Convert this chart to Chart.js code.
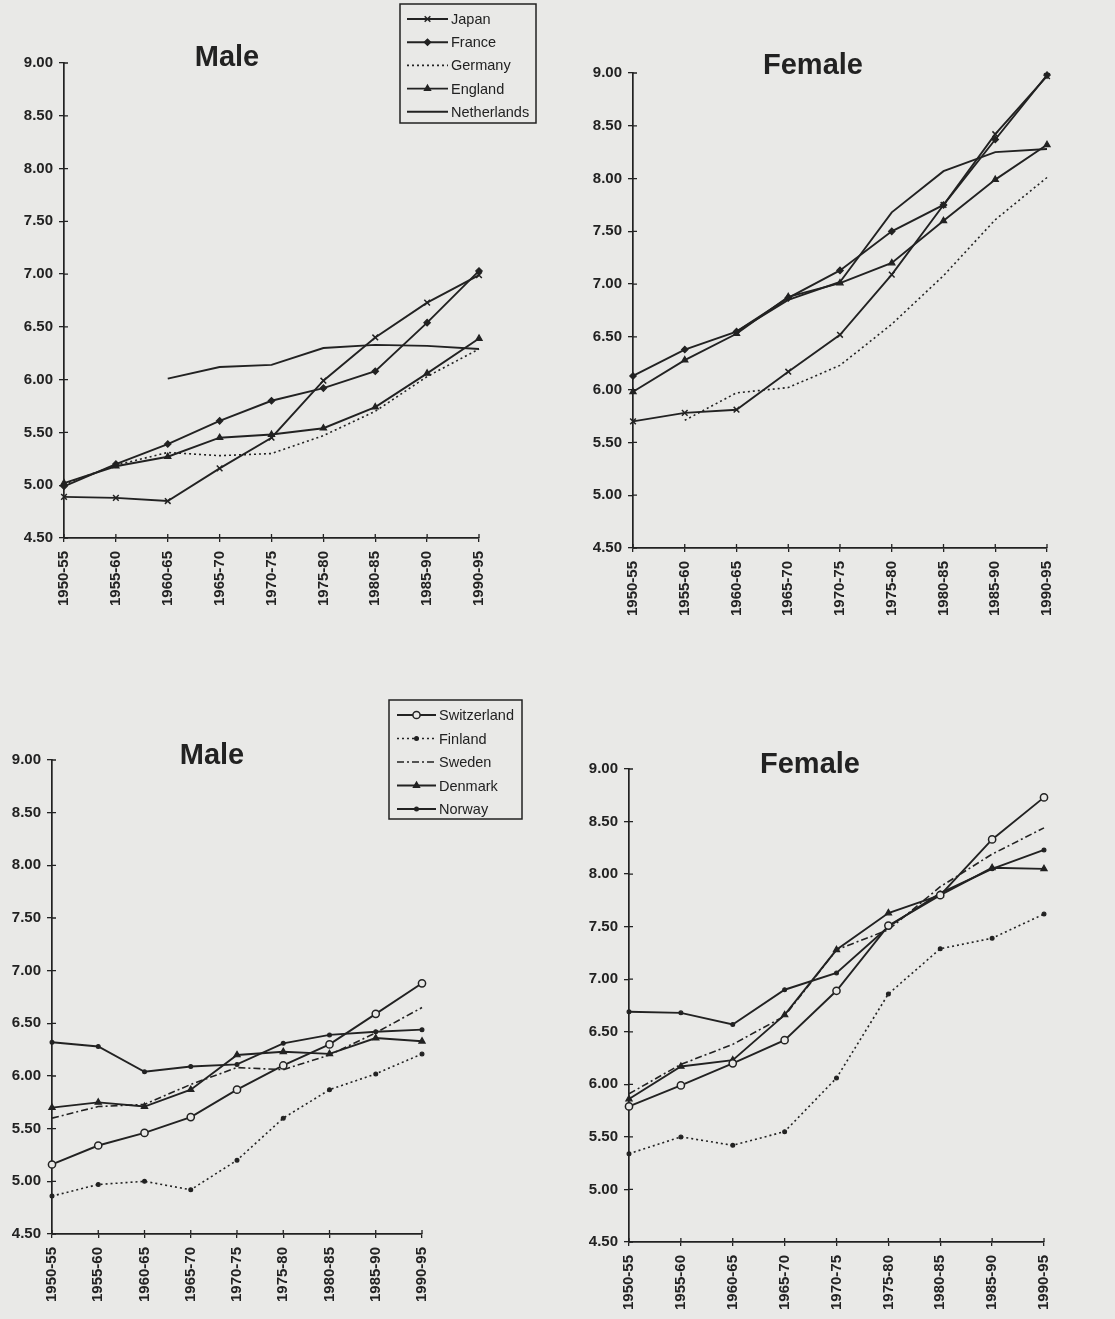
<!DOCTYPE html>
<html>
<head>
<meta charset="utf-8">
<title>Life expectancy at age 80, 1950-55 to 1990-95</title>
<script src="https://cdn.jsdelivr.net/npm/chart.js@4.4.1/dist/chart.umd.min.js"></script>
<style>
  html, body { margin: 0; padding: 0; background: #e9e9e7; }
  #page { position: relative; width: 1115px; height: 1319px; overflow: hidden; }
  #page canvas { position: absolute; }
</style>
</head>
<body>
<div id="page">
  <canvas id="maleA" width="560" height="645" style="left:0;top:0"></canvas>
  <canvas id="femaleA" width="555" height="645" style="left:560px;top:0"></canvas>
  <canvas id="maleB" width="560" height="639" style="left:0;top:680px"></canvas>
  <canvas id="femaleB" width="555" height="639" style="left:560px;top:680px"></canvas>
</div>
<script>
// Periods on the x axis
const periods = ['1950-55', '1955-60', '1960-65', '1965-70', '1970-75', '1975-80', '1980-85', '1985-90', '1990-95'];

// y axis range
const yMin = 4.5;
const yMax = 9.0;
const yStep = 0.5;

// Group A, male
const japanMale       = [4.89, 4.88, 4.85, 5.16, 5.45, 5.99, 6.40, 6.73, 6.99];
const franceMale      = [4.99, 5.20, 5.39, 5.61, 5.80, 5.92, 6.08, 6.54, 7.03];
const germanyMale     = [5.01, 5.19, 5.31, 5.28, 5.30, 5.47, 5.70, 6.03, 6.29];
const englandMale     = [5.02, 5.18, 5.27, 5.45, 5.48, 5.54, 5.74, 6.06, 6.39];
const netherlandsMale = [null, null, 6.01, 6.12, 6.14, 6.30, 6.33, 6.32, 6.29];

// Group A, female
const japanFemale       = [5.70, 5.78, 5.81, 6.17, 6.52, 7.09, 7.75, 8.42, 8.97];
const franceFemale      = [6.13, 6.38, 6.55, 6.87, 7.13, 7.50, 7.75, 8.37, 8.98];
const germanyFemale     = [null, 5.71, 5.97, 6.02, 6.23, 6.62, 7.08, 7.61, 8.01];
const englandFemale     = [5.98, 6.28, 6.53, 6.88, 7.01, 7.20, 7.60, 7.99, 8.32];
const netherlandsFemale = [null, null, 6.55, 6.85, 7.02, 7.68, 8.07, 8.25, 8.28];

// Group B, male
const switzerlandMale = [5.16, 5.34, 5.46, 5.61, 5.87, 6.10, 6.30, 6.59, 6.88];
const finlandMale     = [4.86, 4.97, 5.00, 4.92, 5.20, 5.60, 5.87, 6.02, 6.21];
const swedenMale      = [5.60, 5.71, 5.73, 5.92, 6.08, 6.06, 6.20, 6.41, 6.65];
const denmarkMale     = [5.70, 5.75, 5.71, 5.87, 6.20, 6.23, 6.21, 6.36, 6.33];
const norwayMale      = [6.32, 6.28, 6.04, 6.09, 6.11, 6.31, 6.39, 6.42, 6.44];

// Group B, female
const switzerlandFemale = [5.79, 5.99, 6.20, 6.42, 6.89, 7.51, 7.80, 8.33, 8.73];
const finlandFemale     = [5.34, 5.50, 5.42, 5.55, 6.06, 6.86, 7.29, 7.39, 7.62];
const swedenFemale      = [5.91, 6.19, 6.38, 6.65, 7.28, 7.47, 7.88, 8.19, 8.44];
const denmarkFemale     = [5.86, 6.17, 6.23, 6.66, 7.28, 7.63, 7.80, 8.06, 8.05];
const norwayFemale      = [6.69, 6.68, 6.57, 6.90, 7.06, 7.50, 7.82, 8.05, 8.23];

const INK = '#222222';
const PAPER = '#e9e9e7';
const FONT = '"Liberation Sans", Arial, Helvetica, sans-serif';

const styles = {
    Japan:       { pointStyle: 'crossRot', pointRadius: 4, pointBorderWidth: 1.5 },
    France:      { pointStyle: 'rectRot', pointRadius: 3.2 },
    Germany:     { borderDash: [2, 3], borderWidth: 1.6 },
    England:     { pointStyle: 'triangle', pointRadius: 3.6 },
    Netherlands: {},
    Switzerland: { pointStyle: 'circle', pointRadius: 3.6, pointBackgroundColor: PAPER, pointBorderWidth: 1.5 },
    Finland:     { borderDash: [2, 3], borderWidth: 1.6, pointStyle: 'circle', pointRadius: 1.9 },
    Sweden:      { borderDash: [7, 3, 2, 3], borderWidth: 1.6 },
    Denmark:     { pointStyle: 'triangle', pointRadius: 3.6 },
    Norway:      { pointStyle: 'circle', pointRadius: 1.9 }
};

function series(label, data) {
    return Object.assign({
        label: label,
        data: data,
        borderColor: INK,
        backgroundColor: INK,
        borderWidth: 1.9,
        pointBorderColor: INK,
        pointBackgroundColor: INK,
        pointBorderWidth: 1.2,
        pointRadius: 0,
        tension: 0,
        fill: false,
        clip: false
    }, styles[label]);
}

// Titles, inner half of tick marks and the boxed legend
const panelDecor = {
    id: 'panelDecor',
    afterDraw(chart, args, opts) {
        const ctx = chart.ctx;
        const xs = chart.scales.x;
        const ys = chart.scales.y;
        ctx.save();
        ctx.strokeStyle = INK;
        ctx.lineWidth = 1.3;
        ctx.beginPath();
        xs.ticks.forEach((t, i) => {
            const px = xs.getPixelForTick(i);
            ctx.moveTo(px, xs.top);
            ctx.lineTo(px, xs.top - 4);
        });
        ys.ticks.forEach((t, i) => {
            const py = ys.getPixelForTick(i);
            ctx.moveTo(ys.right, py);
            ctx.lineTo(ys.right + 4, py);
        });
        ctx.stroke();

        ctx.fillStyle = INK;
        ctx.font = 'bold 29px ' + FONT;
        ctx.textAlign = 'center';
        ctx.textBaseline = 'middle';
        ctx.fillText(opts.title, opts.titleX, opts.titleY);

        const lg = opts.legend;
        if (lg) {
            ctx.lineWidth = 1.5;
            ctx.strokeRect(lg.x, lg.y, lg.w, lg.h);
            ctx.font = '14.5px ' + FONT;
            ctx.textAlign = 'left';
            chart.data.datasets.forEach((ds, i) => {
                const ry = lg.firstRow + i * lg.rowH;
                ctx.strokeStyle = INK;
                ctx.lineWidth = ds.borderWidth;
                ctx.setLineDash(ds.borderDash || []);
                ctx.beginPath();
                ctx.moveTo(lg.sx1, ry);
                ctx.lineTo(lg.sx2, ry);
                ctx.stroke();
                ctx.setLineDash([]);
                if (ds.pointRadius > 0 && Chart.helpers && Chart.helpers.drawPoint) {
                    ctx.fillStyle = ds.pointBackgroundColor;
                    ctx.strokeStyle = ds.pointBorderColor;
                    ctx.lineWidth = ds.pointBorderWidth;
                    Chart.helpers.drawPoint(ctx, {
                        pointStyle: ds.pointStyle,
                        radius: ds.pointRadius,
                        borderWidth: ds.pointBorderWidth,
                        rotation: 0
                    }, (lg.sx1 + lg.sx2) / 2, ry);
                }
                ctx.fillStyle = INK;
                ctx.fillText(ds.label, lg.sx2 + 3, ry + 1);
            });
        }
        ctx.restore();
    }
};

function makePanel(id, datasets, geo, decor) {
    const canvas = document.getElementById(id);
    const w = canvas.width;
    const h = canvas.height;
    const tickFont = { family: FONT, size: 15, weight: 'bold' };

    return new Chart(canvas.getContext('2d'), {
        type: 'line',
        data: { labels: periods, datasets: datasets },
        options: {
            responsive: false,
            animation: false,
            devicePixelRatio: 1,
            layout: { padding: { left: 0, top: geo.top, right: w - geo.right, bottom: 0 } },
            plugins: {
                legend: { display: false },
                tooltip: { enabled: false },
                panelDecor: decor
            },
            scales: {
                x: {
                    offset: false,
                    grid: { drawOnChartArea: false, drawTicks: true, tickLength: 4, color: INK, lineWidth: 1.3 },
                    border: { display: true, color: INK, width: 1.7 },
                    ticks: { color: INK, font: tickFont, minRotation: 90, maxRotation: 90, padding: 9, autoSkip: false },
                    afterFit(s) { s.height = h - geo.bottom; }
                },
                y: {
                    min: yMin,
                    max: yMax,
                    grid: { drawOnChartArea: false, drawTicks: true, tickLength: 5, color: INK, lineWidth: 1.3 },
                    border: { display: true, color: INK, width: 1.7 },
                    ticks: { stepSize: yStep, color: INK, font: tickFont, padding: 6, callback: v => v.toFixed(2) },
                    afterFit(s) { s.width = geo.left; }
                }
            }
        },
        plugins: [panelDecor]
    });
}

makePanel('maleA', [
    series('Japan', japanMale),
    series('France', franceMale),
    series('Germany', germanyMale),
    series('England', englandMale),
    series('Netherlands', netherlandsMale)
], { left: 64, right: 479, top: 63, bottom: 538 }, {
    title: 'Male', titleX: 227, titleY: 58,
    legend: { x: 400, y: 4, w: 136, h: 119, firstRow: 19, rowH: 23.2, sx1: 407, sx2: 448 }
});

makePanel('femaleA', [
    series('Japan', japanFemale),
    series('France', franceFemale),
    series('Germany', germanyFemale),
    series('England', englandFemale),
    series('Netherlands', netherlandsFemale)
], { left: 73, right: 487, top: 73, bottom: 548 }, {
    title: 'Female', titleX: 253, titleY: 66
});

makePanel('maleB', [
    series('Switzerland', switzerlandMale),
    series('Finland', finlandMale),
    series('Sweden', swedenMale),
    series('Denmark', denmarkMale),
    series('Norway', norwayMale)
], { left: 52, right: 422, top: 80, bottom: 554 }, {
    title: 'Male', titleX: 212, titleY: 76,
    legend: { x: 389, y: 20, w: 133, h: 119, firstRow: 35, rowH: 23.5, sx1: 397, sx2: 436 }
});

makePanel('femaleB', [
    series('Switzerland', switzerlandFemale),
    series('Finland', finlandFemale),
    series('Sweden', swedenFemale),
    series('Denmark', denmarkFemale),
    series('Norway', norwayFemale)
], { left: 69, right: 484, top: 89, bottom: 562 }, {
    title: 'Female', titleX: 250, titleY: 85
});
</script>
</body>
</html>
